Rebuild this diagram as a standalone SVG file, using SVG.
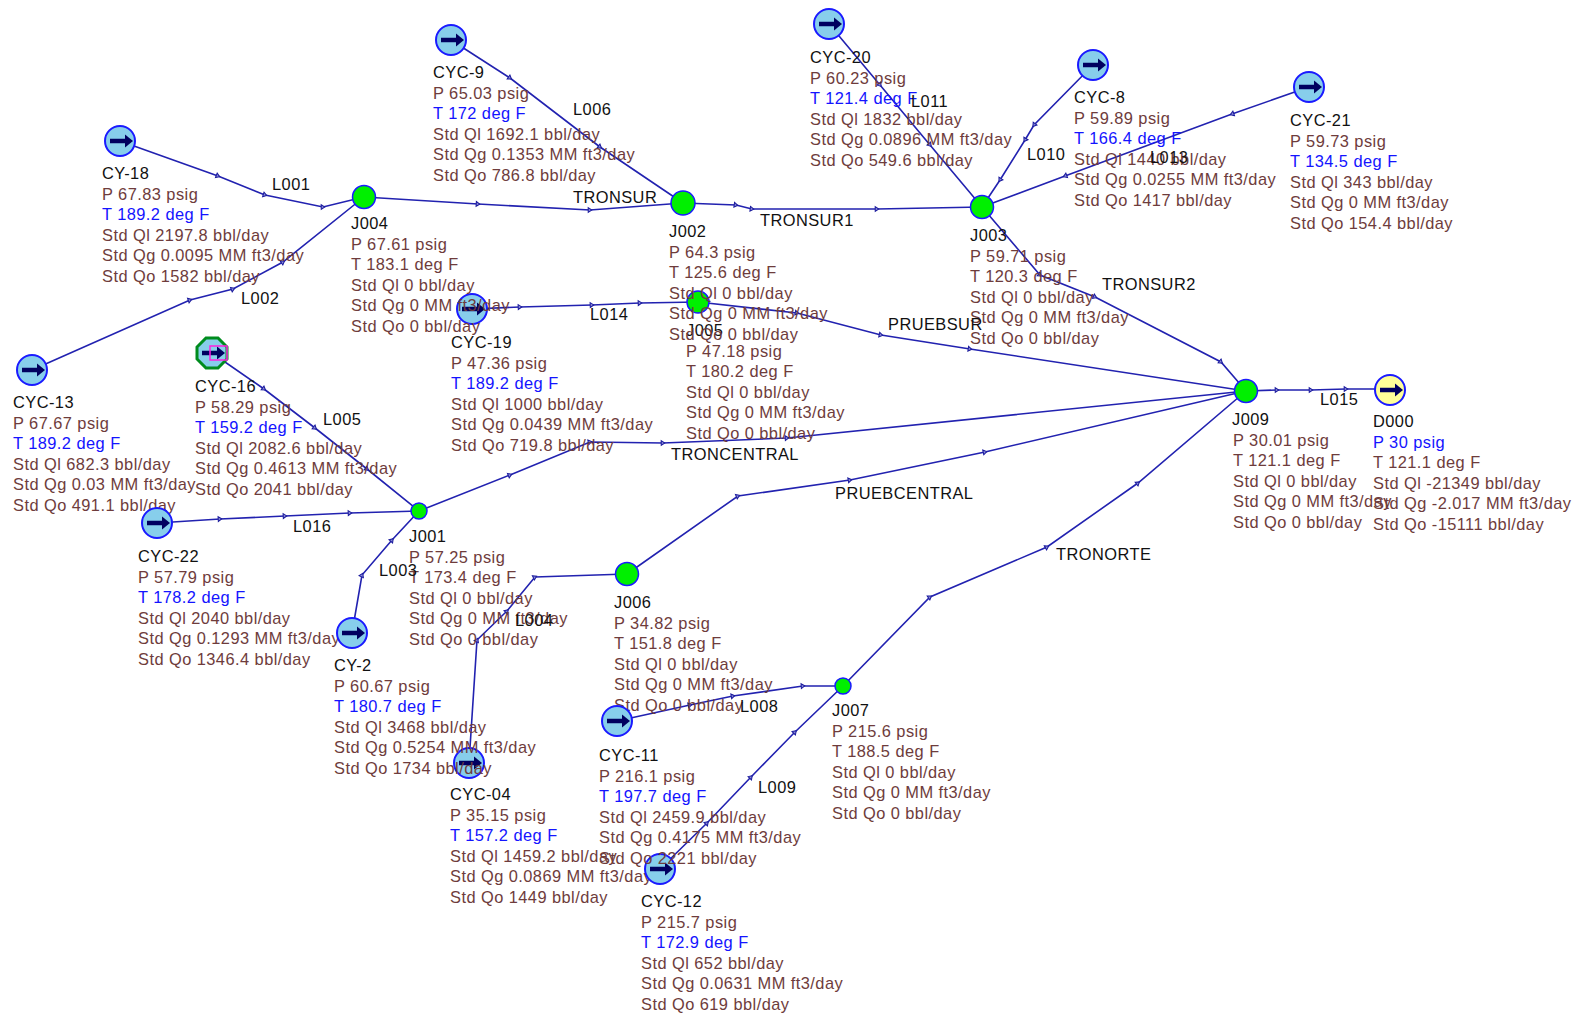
<svg xmlns="http://www.w3.org/2000/svg" width="1576" height="1017" viewBox="0 0 1576 1017">
<style>
text{font-family:"Liberation Sans",Arial,sans-serif;font-size:16.4px;letter-spacing:.45px;fill:#6e3c3c;transform:translateY(-1px)}
.n{fill:#111}.b{fill:#1414ff}.l{fill:#111}
.c polyline{fill:none;stroke:#2222b0;stroke-width:1.6;marker-mid:url(#a)}
.s{fill:#87ceeb;stroke:#1a1aff;stroke-width:2}
.j{fill:#00f000;stroke:#1a1aff;stroke-width:1.5}
</style>
<defs>
<marker id="a" markerWidth="8" markerHeight="8" refX="4" refY="4" orient="auto" markerUnits="userSpaceOnUse"><path d="M2.2 1.6L5.8 4L2.2 6.4Z" fill="#8a8ad8" stroke="#1a1a9c" stroke-width="1"/></marker>
<g id="ar"><path d="M-10 0H6" stroke="#000060" stroke-width="4.5" fill="none"/><path d="M5-6.5L13 0L5 6.5Z" fill="#000060"/></g>
</defs>
<rect width="1576" height="1017" fill="#fff"/>
<g id="connectors" class="c">
<polyline id="L001" points="120,141 218,176 265,195 323,207 364,197"/>
<polyline id="L002" points="32,370 190,300 233,289 283,262 364,197"/>
<polyline id="TRONSUR" points="364,197 478,204 590,210 683,203"/>
<polyline id="TRONSUR1" points="683,203 736,205 752,209 877,209 982,207"/>
<polyline id="L006" points="451,40 510,78 600,147 683,203"/>
<polyline id="L011" points="829,24 880,85 930,145 982,207"/>
<polyline id="L010" points="1093,65 1034,125 1025,140 1000,180 982,207"/>
<polyline id="L013" points="1309,87 1232,114 1065,176 982,207"/>
<polyline id="TRONSUR2" points="982,207 1040,275 1095,297 1221,362 1246,391"/>
<polyline id="L014" points="472,309 520,307 592,305 640,303 698,302"/>
<polyline id="PRUEBSUR" points="698,302 797,313 881,335 970,349 1246,391"/>
<polyline id="TRONCENTRAL" points="419,511 510,475 590,442 663,443 787,438 1246,391"/>
<polyline id="PRUEBCENTRAL" points="627,574 738,496 850,480 985,452 1246,391"/>
<polyline id="TRONORTE" points="843,686 930,597 1047,547 1138,483 1246,391"/>
<polyline id="L015" points="1246,391 1277,390 1311,390 1346,389 1390,389"/>
<polyline id="L005" points="212,353 264,389 315,428 367,469 419,511"/>
<polyline id="L016" points="157,523 220,519 285,516 350,513 419,511"/>
<polyline id="L003" points="352,633 362,575 392,540 419,511"/>
<polyline id="L004" points="469,763 477,640 507,611 535,577 627,574"/>
<polyline id="L008" points="617,721 690,705 733,696 803,686 843,686"/>
<polyline id="L009" points="660,869 707,823 751,777 795,732 843,686"/>
</g>
<g id="CYC-19"><circle class="s" cx="472" cy="309" r="15"/><use href="#ar" x="472" y="309"/><text x="451" y="349" class="n">CYC-19</text><text x="451" y="370">P 47.36 psig</text><text x="451" y="390" class="b">T 189.2 deg F</text><text x="451" y="411">Std Ql 1000 bbl/day</text><text x="451" y="431">Std Qg 0.0439 MM ft3/day</text><text x="451" y="452">Std Qo 719.8 bbl/day</text></g>
<g id="CYC-04"><circle class="s" cx="469" cy="763" r="15"/><use href="#ar" x="469" y="763"/><text x="450" y="801" class="n">CYC-04</text><text x="450" y="822">P 35.15 psig</text><text x="450" y="842" class="b">T 157.2 deg F</text><text x="450" y="863">Std Ql 1459.2 bbl/day</text><text x="450" y="883">Std Qg 0.0869 MM ft3/day</text><text x="450" y="904">Std Qo 1449 bbl/day</text></g>
<g id="CYC-12"><circle class="s" cx="660" cy="869" r="15"/><use href="#ar" x="660" y="869"/><text x="641" y="908" class="n">CYC-12</text><text x="641" y="929">P 215.7 psig</text><text x="641" y="949" class="b">T 172.9 deg F</text><text x="641" y="970">Std Ql 652 bbl/day</text><text x="641" y="990">Std Qg 0.0631 MM ft3/day</text><text x="641" y="1011">Std Qo 619 bbl/day</text></g>
<g id="J005"><circle class="j" cx="698" cy="302" r="11"/><text x="686" y="337" class="n">J005</text><text x="686" y="358">P 47.18 psig</text><text x="686" y="378">T 180.2 deg F</text><text x="686" y="399">Std Ql 0 bbl/day</text><text x="686" y="419">Std Qg 0 MM ft3/day</text><text x="686" y="440">Std Qo 0 bbl/day</text></g>
<g id="CY-18"><circle class="s" cx="120" cy="141" r="15"/><use href="#ar" x="120" y="141"/><text x="102" y="180" class="n">CY-18</text><text x="102" y="201">P 67.83 psig</text><text x="102" y="221" class="b">T 189.2 deg F</text><text x="102" y="242">Std Ql 2197.8 bbl/day</text><text x="102" y="262">Std Qg 0.0095 MM ft3/day</text><text x="102" y="283">Std Qo 1582 bbl/day</text></g>
<g id="CYC-9"><circle class="s" cx="451" cy="40" r="15"/><use href="#ar" x="451" y="40"/><text x="433" y="79" class="n">CYC-9</text><text x="433" y="100">P 65.03 psig</text><text x="433" y="120" class="b">T 172 deg F</text><text x="433" y="141">Std Ql 1692.1 bbl/day</text><text x="433" y="161">Std Qg 0.1353 MM ft3/day</text><text x="433" y="182">Std Qo 786.8 bbl/day</text></g>
<g id="CYC-20"><circle class="s" cx="829" cy="24" r="15"/><use href="#ar" x="829" y="24"/><text x="810" y="64" class="n">CYC-20</text><text x="810" y="85">P 60.23 psig</text><text x="810" y="105" class="b">T 121.4 deg F</text><text x="810" y="126">Std Ql 1832 bbl/day</text><text x="810" y="146">Std Qg 0.0896 MM ft3/day</text><text x="810" y="167">Std Qo 549.6 bbl/day</text></g>
<g id="CYC-8"><circle class="s" cx="1093" cy="65" r="15"/><use href="#ar" x="1093" y="65"/><text x="1074" y="104" class="n">CYC-8</text><text x="1074" y="125">P 59.89 psig</text><text x="1074" y="145" class="b">T 166.4 deg F</text><text x="1074" y="166">Std Ql 1440 bbl/day</text><text x="1074" y="186">Std Qg 0.0255 MM ft3/day</text><text x="1074" y="207">Std Qo 1417 bbl/day</text></g>
<g id="CYC-21"><circle class="s" cx="1309" cy="87" r="15"/><use href="#ar" x="1309" y="87"/><text x="1290" y="127" class="n">CYC-21</text><text x="1290" y="148">P 59.73 psig</text><text x="1290" y="168" class="b">T 134.5 deg F</text><text x="1290" y="189">Std Ql 343 bbl/day</text><text x="1290" y="209">Std Qg 0 MM ft3/day</text><text x="1290" y="230">Std Qo 154.4 bbl/day</text></g>
<g id="J004"><circle class="j" cx="364" cy="197" r="11.5"/><text x="351" y="230" class="n">J004</text><text x="351" y="251">P 67.61 psig</text><text x="351" y="271">T 183.1 deg F</text><text x="351" y="292">Std Ql 0 bbl/day</text><text x="351" y="312">Std Qg 0 MM ft3/day</text><text x="351" y="333">Std Qo 0 bbl/day</text></g>
<g id="J002"><circle class="j" cx="683" cy="203" r="12"/><text x="669" y="238" class="n">J002</text><text x="669" y="259">P 64.3 psig</text><text x="669" y="279">T 125.6 deg F</text><text x="669" y="300">Std Ql 0 bbl/day</text><text x="669" y="320">Std Qg 0 MM ft3/day</text><text x="669" y="341">Std Qo 0 bbl/day</text></g>
<g id="J003"><circle class="j" cx="982" cy="207" r="11.5"/><text x="970" y="242" class="n">J003</text><text x="970" y="263">P 59.71 psig</text><text x="970" y="283">T 120.3 deg F</text><text x="970" y="304">Std Ql 0 bbl/day</text><text x="970" y="324">Std Qg 0 MM ft3/day</text><text x="970" y="345">Std Qo 0 bbl/day</text></g>
<g id="J009"><circle class="j" cx="1246" cy="391" r="11.5"/><text x="1232" y="426" class="n">J009</text><text x="1233" y="447">P 30.01 psig</text><text x="1233" y="467">T 121.1 deg F</text><text x="1233" y="488">Std Ql 0 bbl/day</text><text x="1233" y="508">Std Qg 0 MM ft3/day</text><text x="1233" y="529">Std Qo 0 bbl/day</text></g>
<g id="D000"><circle class="s" cx="1390" cy="390" r="15" style="fill:#ffff99"/><use href="#ar" x="1390" y="390"/><text x="1373" y="428" class="n">D000</text><text x="1373" y="449" class="b">P 30 psig</text><text x="1373" y="469">T 121.1 deg F</text><text x="1373" y="490">Std Ql -21349 bbl/day</text><text x="1373" y="510">Std Qg -2.017 MM ft3/day</text><text x="1373" y="531">Std Qo -15111 bbl/day</text></g>
<g id="CYC-13"><circle class="s" cx="32" cy="370" r="15"/><use href="#ar" x="32" y="370"/><text x="13" y="409" class="n">CYC-13</text><text x="13" y="430">P 67.67 psig</text><text x="13" y="450" class="b">T 189.2 deg F</text><text x="13" y="471">Std Ql 682.3 bbl/day</text><text x="13" y="491">Std Qg 0.03 MM ft3/day</text><text x="13" y="512">Std Qo 491.1 bbl/day</text></g>
<g id="CYC-16"><polygon points="206,338 218,338 227,347 227,359 218,368 206,368 197,359 197,347" fill="#87ceeb" stroke="#008c1e" stroke-width="3"/><use href="#ar" x="212" y="353"/><rect x="210" y="346" width="17" height="14" fill="none" stroke="#ff20e0" stroke-width="1.5"/><text x="195" y="393" class="n">CYC-16</text><text x="195" y="414">P 58.29 psig</text><text x="195" y="434" class="b">T 159.2 deg F</text><text x="195" y="455">Std Ql 2082.6 bbl/day</text><text x="195" y="475">Std Qg 0.4613 MM ft3/day</text><text x="195" y="496">Std Qo 2041 bbl/day</text></g>
<g id="J001"><circle class="j" cx="419" cy="511" r="8"/><text x="409" y="543" class="n">J001</text><text x="409" y="564">P 57.25 psig</text><text x="409" y="584">T 173.4 deg F</text><text x="409" y="605">Std Ql 0 bbl/day</text><text x="409" y="625">Std Qg 0 MM ft3/day</text><text x="409" y="646">Std Qo 0 bbl/day</text></g>
<g id="CYC-22"><circle class="s" cx="157" cy="523" r="15"/><use href="#ar" x="157" y="523"/><text x="138" y="563" class="n">CYC-22</text><text x="138" y="584">P 57.79 psig</text><text x="138" y="604" class="b">T 178.2 deg F</text><text x="138" y="625">Std Ql 2040 bbl/day</text><text x="138" y="645">Std Qg 0.1293 MM ft3/day</text><text x="138" y="666">Std Qo 1346.4 bbl/day</text></g>
<g id="CY-2"><circle class="s" cx="352" cy="633" r="15"/><use href="#ar" x="352" y="633"/><text x="334" y="672" class="n">CY-2</text><text x="334" y="693">P 60.67 psig</text><text x="334" y="713" class="b">T 180.7 deg F</text><text x="334" y="734">Std Ql 3468 bbl/day</text><text x="334" y="754">Std Qg 0.5254 MM ft3/day</text><text x="334" y="775">Std Qo 1734 bbl/day</text></g>
<g id="J006"><circle class="j" cx="627" cy="574" r="11.5"/><text x="614" y="609" class="n">J006</text><text x="614" y="630">P 34.82 psig</text><text x="614" y="650">T 151.8 deg F</text><text x="614" y="671">Std Ql 0 bbl/day</text><text x="614" y="691">Std Qg 0 MM ft3/day</text><text x="614" y="712">Std Qo 0 bbl/day</text></g>
<g id="J007"><circle class="j" cx="843" cy="686" r="8"/><text x="832" y="717" class="n">J007</text><text x="832" y="738">P 215.6 psig</text><text x="832" y="758">T 188.5 deg F</text><text x="832" y="779">Std Ql 0 bbl/day</text><text x="832" y="799">Std Qg 0 MM ft3/day</text><text x="832" y="820">Std Qo 0 bbl/day</text></g>
<g id="CYC-11"><circle class="s" cx="617" cy="721" r="15"/><use href="#ar" x="617" y="721"/><text x="599" y="762" class="n">CYC-11</text><text x="599" y="783">P 216.1 psig</text><text x="599" y="803" class="b">T 197.7 deg F</text><text x="599" y="824">Std Ql 2459.9 bbl/day</text><text x="599" y="844">Std Qg 0.4175 MM ft3/day</text><text x="599" y="865">Std Qo 2221 bbl/day</text></g>
<g id="pipe-labels">
<text class="l" x="272" y="191">L001</text><text class="l" x="241" y="305">L002</text><text class="l" x="573" y="204">TRONSUR</text><text class="l" x="760" y="227">TRONSUR1</text><text class="l" x="573" y="116">L006</text><text class="l" x="911" y="108">L011</text><text class="l" x="1027" y="161">L010</text><text class="l" x="1150" y="164">L013</text><text class="l" x="1102" y="291">TRONSUR2</text><text class="l" x="888" y="331">PRUEBSUR</text><text class="l" x="590" y="321">L014</text><text class="l" x="323" y="426">L005</text><text class="l" x="293" y="533">L016</text><text class="l" x="379" y="577">L003</text><text class="l" x="515" y="627">L004</text><text class="l" x="671" y="461">TRONCENTRAL</text><text class="l" x="835" y="500">PRUEBCENTRAL</text><text class="l" x="1320" y="406">L015</text><text class="l" x="1056" y="561">TRONORTE</text><text class="l" x="740" y="713">L008</text><text class="l" x="758" y="794">L009</text>
</g>
</svg>
